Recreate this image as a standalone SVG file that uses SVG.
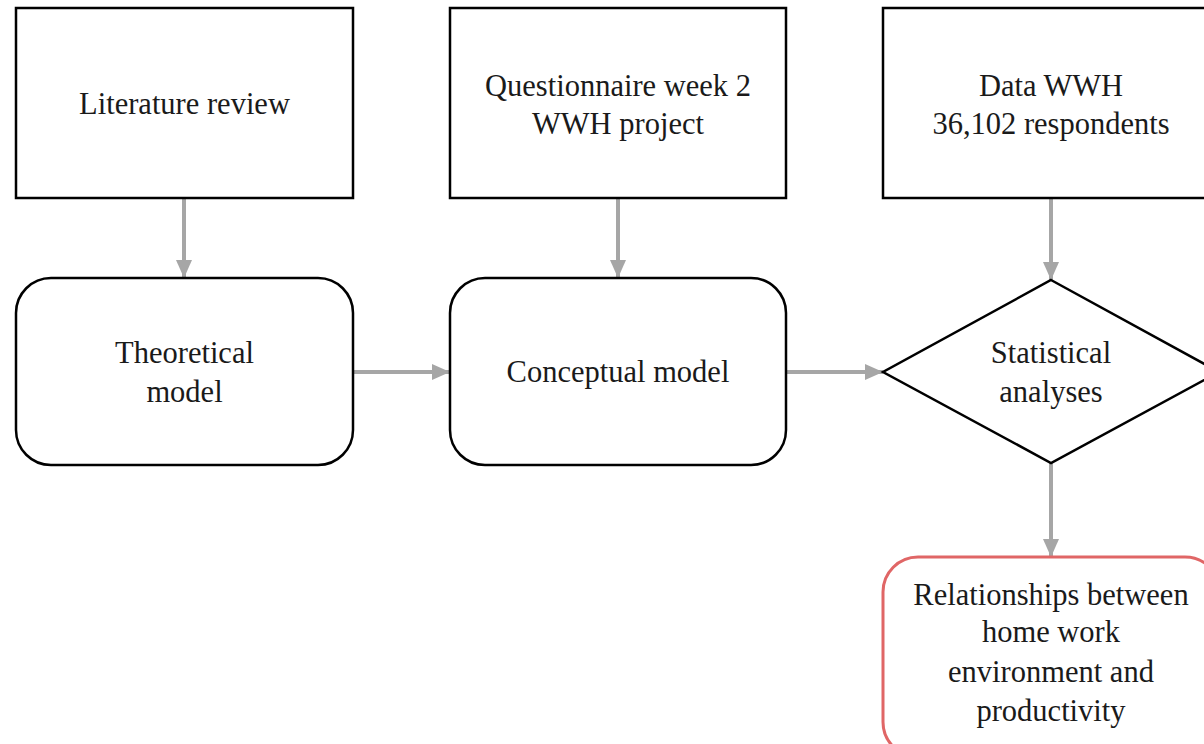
<svg xmlns="http://www.w3.org/2000/svg" width="1204" height="744" viewBox="0 0 1204 744">
  <style>
    .box { fill: #ffffff; stroke: #000000; stroke-width: 2.5; }
    .result { fill: #ffffff; stroke: #e06666; stroke-width: 3; }
    .lbl { font-family: "Liberation Serif", "Times New Roman", serif; font-size: 30.5px; fill: #1a1a1a; text-anchor: middle; }
    .conn { stroke: #a6a6a6; stroke-width: 4; fill: none; marker-end: url(#head); }
  </style>
  <defs>
    <marker id="head" markerWidth="4.5" markerHeight="4" refX="4.5" refY="2" orient="auto" markerUnits="strokeWidth">
      <path d="M0,0 L4.5,2 L0,4 Z" fill="#a6a6a6"/>
    </marker>
  </defs>
  <rect width="1204" height="744" fill="#ffffff"/>

  <g id="connectors">
    <line class="conn" x1="184" y1="198" x2="184" y2="278"/>
    <line class="conn" x1="618" y1="198" x2="618" y2="278"/>
    <line class="conn" x1="1051" y1="198" x2="1051" y2="280"/>
    <line class="conn" x1="353" y1="372" x2="450" y2="372"/>
    <line class="conn" x1="786" y1="372" x2="883" y2="372"/>
    <line class="conn" x1="1051" y1="463" x2="1051" y2="557"/>
  </g>

  <g id="literature-review">
    <rect class="box" x="16" y="8" width="337" height="190"/>
    <text class="lbl" x="184.5" y="114">Literature review</text>
  </g>

  <g id="questionnaire">
    <rect class="box" x="450" y="8" width="336" height="190"/>
    <text class="lbl" x="618" y="96">Questionnaire week 2</text>
    <text class="lbl" x="618" y="134">WWH project</text>
  </g>

  <g id="data-wwh">
    <rect class="box" x="883" y="8" width="337" height="190"/>
    <text class="lbl" x="1051" y="96">Data WWH</text>
    <text class="lbl" x="1051" y="134">36,102 respondents</text>
  </g>

  <g id="theoretical-model">
    <rect class="box" x="16" y="278" width="337" height="187" rx="35" ry="35"/>
    <text class="lbl" x="184.5" y="363">Theoretical</text>
    <text class="lbl" x="184.5" y="402">model</text>
  </g>

  <g id="conceptual-model">
    <rect class="box" x="450" y="278" width="336" height="187" rx="35" ry="35"/>
    <text class="lbl" x="618" y="382">Conceptual model</text>
  </g>

  <g id="statistical-analyses">
    <polygon class="box" points="1051,280 1219,372 1051,463 883,372"/>
    <text class="lbl" x="1051" y="363">Statistical</text>
    <text class="lbl" x="1051" y="402">analyses</text>
  </g>

  <g id="relationships">
    <rect class="result" x="883" y="557" width="337" height="200" rx="35" ry="35"/>
    <text class="lbl" x="1051" y="605">Relationships between</text>
    <text class="lbl" x="1051" y="642">home work</text>
    <text class="lbl" x="1051" y="682">environment and</text>
    <text class="lbl" x="1051" y="721">productivity</text>
  </g>
</svg>
